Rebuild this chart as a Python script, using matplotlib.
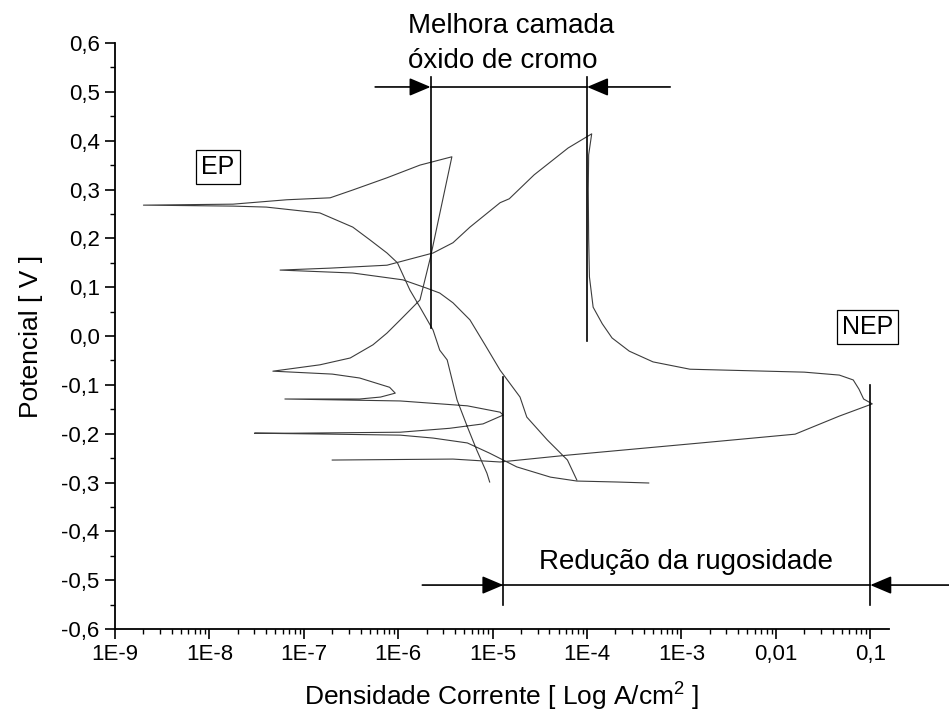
import matplotlib
matplotlib.use("Agg")
import matplotlib.pyplot as plt
import matplotlib.ticker as mtick

plt.rcParams["font.family"] = ["Liberation Sans", "DejaVu Sans"]
plt.rcParams["mathtext.fontset"] = "custom"
plt.rcParams["mathtext.rm"] = "Liberation Sans"
plt.rcParams["mathtext.it"] = "Liberation Sans:italic"

# ---------------------------------------------------------------------------
# Data: current density [A/cm2], potential [V]
# ---------------------------------------------------------------------------
ep_current = [9.3e-6, 8.7e-6, 6.8e-6, 5.4e-6, 4.2e-6, 3.3e-6, 2.75e-6, 2.34e-6,
              1.7e-6, 1.33e-6, 9.8e-7, 7.6e-7, 5.0e-7, 3.3e-7, 1.48e-7, 4.0e-8,
              1.78e-8, 2.0e-9, 1.78e-8,
              6.6e-8, 1.9e-7, 3.3e-7, 7.6e-7, 1.7e-6, 3.7e-6, 2.2e-6, 1.7e-6,
              1.33e-6, 1.05e-6, 7.6e-7, 5.4e-7, 3.1e-7, 1.48e-7, 4.7e-8, 2.0e-7,
              3.9e-7, 8.1e-7, 9.3e-7, 6.5e-7, 3.9e-7, 6.3e-8, 1.05e-6, 5.4e-6,
              1.2e-5, 1.29e-5, 7.9e-6, 3.5e-6, 1.05e-6, 7.8e-8, 3.0e-8, 2.0e-7,
              1.05e-6, 2.34e-6, 5.4e-6, 9.3e-6, 1.8e-5, 4.1e-5, 7.8e-5, 2.1e-4,
              4.5e-4]
ep_potential = [-0.299, -0.281, -0.234, -0.186, -0.131, -0.049, -0.029, 0.012,
                0.059, 0.094, 0.150, 0.170, 0.197, 0.223, 0.252, 0.264,
                0.266, 0.268, 0.270,
                0.279, 0.283, 0.299, 0.324, 0.350, 0.367, 0.162, 0.074,
                0.053, 0.033, 0.006, -0.018, -0.045, -0.059, -0.072, -0.078,
                -0.086, -0.105, -0.117, -0.125, -0.129, -0.129, -0.133, -0.143,
                -0.156, -0.162, -0.180, -0.189, -0.197, -0.199, -0.199, -0.201,
                -0.203, -0.209, -0.219, -0.240, -0.268, -0.289, -0.297, -0.299,
                -0.301]

nep_current = [2.0e-7, 3.8e-6, 1.2e-5, 6.2e-5, 1.6e-3, 1.6e-2, 4.7e-2, 0.105,
               8.5e-2, 7.6e-2, 6.6e-2, 4.7e-2, 2.0e-2, 1.23e-3, 5.0e-4, 2.8e-4,
               1.84e-4, 1.45e-4, 1.16e-4, 1.06e-4, 1.04e-4, 1.03e-4, 1.04e-4,
               1.12e-4, 6.3e-5,
               2.75e-5, 1.5e-5, 1.2e-5, 5.75e-6, 3.8e-6, 2.34e-6, 7.6e-7, 1.9e-7,
               5.6e-8, 3.3e-7, 1.12e-6, 2.0e-6, 2.75e-6, 3.8e-6, 5.75e-6, 8.3e-6,
               1.2e-5, 1.95e-5, 2.3e-5, 3.8e-5, 6.2e-5, 7.8e-5]
nep_potential = [-0.254, -0.252, -0.258, -0.244, -0.219, -0.201, -0.164, -0.139,
                 -0.129, -0.109, -0.090, -0.080, -0.074, -0.068, -0.053, -0.031,
                 -0.004, 0.025, 0.059, 0.121, 0.200, 0.300, 0.371,
                 0.414, 0.385,
                 0.330, 0.281, 0.273, 0.223, 0.191, 0.170, 0.145, 0.139,
                 0.135, 0.129, 0.115, 0.098, 0.088, 0.068, 0.033, -0.018,
                 -0.070, -0.125, -0.166, -0.213, -0.254, -0.295]

# annotation markers
oxide_lines_x = [2.2e-6, 1.0e-4]
oxide_lines_bottom = [0.016, -0.01]
oxide_top = 0.53
oxide_arrow_y = 0.51
oxide_arrow_tails = [5.7e-7, 7.6e-4]

rough_lines_x = [1.3e-5, 0.1]
rough_lines_top = [-0.084, -0.10]
rough_bottom = -0.55
rough_arrow_y = -0.51
rough_arrow_tails = [1.8e-6, 0.68]

x_ticks = [1e-9, 1e-8, 1e-7, 1e-6, 1e-5, 1e-4, 1e-3, 1e-2, 1e-1]
x_ticklabels = ["1E-9", "1E-8", "1E-7", "1E-6", "1E-5", "1E-4", "1E-3", "0,01", "0,1"]
y_ticks = [-0.6, -0.5, -0.4, -0.3, -0.2, -0.1, 0.0, 0.1, 0.2, 0.3, 0.4, 0.5, 0.6]
y_ticklabels = ["-0,6", "-0,5", "-0,4", "-0,3", "-0,2", "-0,1", "0,0",
                "0,1", "0,2", "0,3", "0,4", "0,5", "0,6"]

CURVE = "#3c3c3c"
INK = "black"

fig = plt.figure(figsize=(9.49, 7.24), dpi=100, facecolor="white")
ax = fig.add_axes([0.1212, 0.1312, 0.8156, 0.8094])

ax.plot(ep_current, ep_potential, color=CURVE, lw=0.8)
ax.plot(nep_current, nep_potential, color=CURVE, lw=0.8)

ax.set_xscale("log")
ax.set_xlim(1e-9, 0.158)
ax.set_ylim(-0.6, 0.6)

ax.set_xticks(x_ticks)
ax.set_xticklabels(x_ticklabels)
ax.xaxis.set_minor_locator(mtick.LogLocator(base=10, subs=range(2, 10), numticks=20))
ax.xaxis.set_minor_formatter(mtick.NullFormatter())
ax.set_yticks(y_ticks)
ax.set_yticklabels(y_ticklabels)
ax.yaxis.set_minor_locator(mtick.MultipleLocator(0.05))

for side in ("top", "right"):
    ax.spines[side].set_visible(False)
for side in ("left", "bottom"):
    ax.spines[side].set_linewidth(1.3)
ax.tick_params(which="major", direction="out", length=7, width=1.2, labelsize=16, pad=4)
ax.tick_params(which="minor", direction="out", length=3.6, width=1.0)

ax.set_xlabel("Densidade Corrente [ Log A/cm$^2$ ]", fontsize=19, labelpad=11)
ax.set_ylabel("Potencial [ V ]", fontsize=19, labelpad=13)

# ---- oxide layer annotation ----
for x, yb in zip(oxide_lines_x, oxide_lines_bottom):
    ax.plot([x, x], [yb, oxide_top], color=INK, lw=1.2)
ax.plot(oxide_lines_x, [oxide_arrow_y] * 2, color=INK, lw=1.2)
arrow = dict(arrowstyle="-|>,head_length=1.3,head_width=0.55", color=INK, lw=1.2,
             shrinkA=0, shrinkB=0, mutation_scale=10)
for tail, tip in zip(oxide_arrow_tails, oxide_lines_x):
    ax.annotate("", xy=(tip, oxide_arrow_y), xytext=(tail, oxide_arrow_y),
                arrowprops=arrow, annotation_clip=False)
ax.text(1.26e-6, 0.621, "Melhora camada", fontsize=20, ha="left", va="baseline",
        clip_on=False)
ax.text(1.26e-6, 0.549, "óxido de cromo", fontsize=20, ha="left", va="baseline",
        clip_on=False)

# ---- roughness annotation ----
for x, yt in zip(rough_lines_x, rough_lines_top):
    ax.plot([x, x], [rough_bottom, yt], color=INK, lw=1.2)
ax.plot(rough_lines_x, [rough_arrow_y] * 2, color=INK, lw=1.2)
for tail, tip in zip(rough_arrow_tails, rough_lines_x):
    ax.annotate("", xy=(tip, rough_arrow_y), xytext=(tail, rough_arrow_y),
                arrowprops=arrow, annotation_clip=False)
ax.text(1.12e-3, -0.463, "Redução da rugosidade", fontsize=20, ha="center", va="center")

# ---- sample labels ----
box = dict(boxstyle="square,pad=0.2", facecolor="white", edgecolor=INK, lw=0.9)
ax.text(1.23e-8, 0.346, "EP", fontsize=18, ha="center", va="center", bbox=box)
ax.text(0.093, 0.018, "NEP", fontsize=18, ha="center", va="center", bbox=box)

fig.savefig("out.png", dpi=100, facecolor="white")
